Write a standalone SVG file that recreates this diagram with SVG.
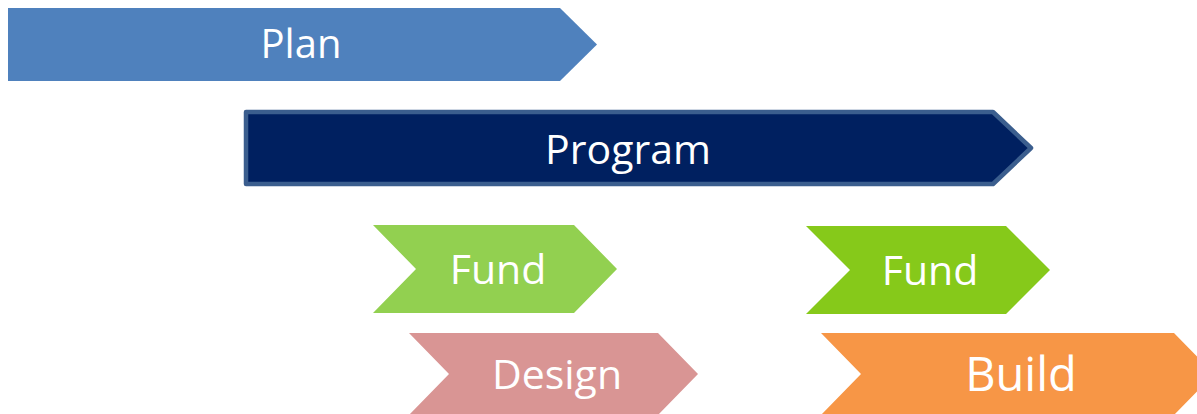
<svg xmlns="http://www.w3.org/2000/svg" width="1197" height="414" viewBox="0 0 1197 414">
<style>
text{font-family:"Open Sans","Noto Sans","Liberation Sans",sans-serif;fill:#fff;text-anchor:middle}
</style>
<rect width="1197" height="414" fill="#fff"/>
<g id="plan">
<polygon points="8,8 560,8 597,44.5 560,81 8,81" fill="#4f81bd"/>
<text x="301" y="58" font-size="40">Plan</text>
</g>
<g id="program">
<polygon points="246,112 993,112 1031,148 993,184 246,184" fill="#002060" stroke="#3b5e8e" stroke-width="4.5" stroke-linejoin="round"/>
<text x="628" y="164" font-size="41">Program</text>
</g>
<g id="fund1">
<polygon points="373,225 574,225 617,269 574,313 373,313 416,269" fill="#92d050"/>
<text x="498" y="284" font-size="41">Fund</text>
</g>
<g id="fund2">
<polygon points="806,226 1006,226 1050,270 1006,314 806,314 850,270" fill="#86c91a"/>
<text x="930" y="285" font-size="41">Fund</text>
</g>
<g id="design">
<polygon points="409,333 658,333 698,374 658,415 409,415 449,374" fill="#d99594"/>
<text x="557" y="389" font-size="41">Design</text>
</g>
<g id="build">
<polygon points="821,333 1174,333 1214,374 1174,415 821,415 861,374" fill="#f79646"/>
<text x="1021" y="391" font-size="47">Build</text>
</g>
<g id="connectors"/>
</svg>
